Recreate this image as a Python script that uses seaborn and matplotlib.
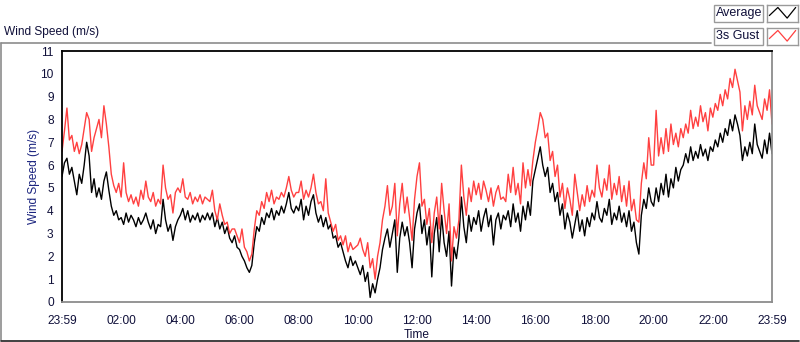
import numpy as np
import pandas as pd
import matplotlib
matplotlib.use("Agg")
import matplotlib.pyplot as plt
import seaborn as sns
from matplotlib.lines import Line2D
from matplotlib.patches import Rectangle

# ---------------- data (5-minute samples, minutes since 23:59) ----------------
avg = [
    5.5, 6.1, 6.3, 5.6, 5.9, 5.3, 4.7, 5.6, 5.2, 6.0, 7.0, 6.4,
    4.8, 5.4, 4.6, 5.0, 4.5, 5.3, 5.7, 4.9, 4.2, 3.8, 4.0, 3.6,
    3.7, 3.4, 3.9, 3.5, 3.8, 3.6, 3.3, 3.7, 3.4, 3.6, 3.9, 3.5,
    3.2, 3.6, 3.0, 3.4, 3.3, 4.5, 3.6, 3.1, 3.4, 2.7, 3.3, 3.6,
    3.8, 4.1, 3.6, 4.0, 3.5, 3.8, 3.6, 3.9, 3.5, 3.8, 3.6, 3.9,
    3.6, 3.9, 3.3, 3.7, 3.2, 3.5, 3.0, 3.3, 2.8, 2.6, 2.9, 2.4,
    2.3, 2.0, 1.8, 1.5, 1.3, 1.6, 2.6, 3.3, 3.1, 3.7, 3.4, 3.9,
    3.7, 4.1, 3.6, 4.0, 3.8, 4.2, 3.9, 4.3, 4.8, 4.1, 3.9, 4.2,
    4.0, 4.5, 3.6, 4.2, 3.8, 4.4, 4.7, 3.9, 3.5, 3.8, 3.3, 3.7,
    3.2, 3.4, 2.8, 2.9, 2.4, 2.6, 2.2, 1.8, 1.5, 2.0, 1.6, 1.8,
    1.5, 1.2, 1.6, 0.9, 1.3, 0.2, 0.8, 0.4, 1.0, 1.5, 2.3, 2.8,
    3.2, 2.4, 3.0, 3.6, 1.3, 2.8, 3.5, 2.9, 3.3, 2.6, 1.5, 3.2,
    3.9, 4.3, 3.0, 3.6, 2.5, 3.3, 1.1, 3.0, 3.7, 2.2, 3.8, 2.6,
    2.0, 3.1, 0.7, 2.4, 1.9, 2.8, 4.6, 3.3, 2.6, 3.8, 3.1, 3.7,
    3.4, 4.0, 3.1, 3.7, 4.1, 3.3, 3.8, 2.5, 3.6, 3.9, 3.2, 3.8,
    3.6, 4.0, 3.3, 4.3, 3.5, 3.9, 3.1, 4.2, 3.6, 4.4, 3.8, 5.3,
    5.8, 6.3, 6.8, 6.0, 5.5, 5.9, 4.8, 5.2, 4.4, 4.8, 3.8, 4.3,
    3.2, 3.9, 3.5, 2.8, 3.4, 4.0, 3.1, 3.6, 2.9, 3.7, 3.3, 3.9,
    3.6, 4.4, 3.7, 3.5, 4.1, 3.8, 4.5, 3.4, 3.9, 3.6, 4.2, 3.5,
    3.9, 3.3, 4.0, 3.1, 3.5, 2.6, 2.1, 3.8, 4.5, 4.1, 5.0, 4.4,
    4.2, 5.0, 4.4, 5.2, 4.7, 5.6, 4.6, 5.4, 5.0, 5.9, 5.3, 5.8,
    6.0, 6.5, 6.1, 6.8, 6.2, 6.6, 6.3, 6.9, 6.4, 6.7, 6.2, 6.8,
    6.6, 7.1, 6.8, 7.4, 7.0, 7.6, 7.3, 8.0, 7.5, 8.2, 7.8, 7.3,
    6.2, 6.8, 6.4, 7.0, 6.5, 7.8, 6.9, 6.6, 6.3, 7.1, 6.5, 7.4, 6.5,
]
gust = [
    6.6, 7.5, 8.5, 7.1, 7.3, 6.6, 7.0, 6.5, 6.9, 7.6, 8.3, 8.0,
    6.6, 7.2, 7.6, 8.0, 7.2, 8.6, 7.8, 6.8, 5.6, 5.1, 4.8, 5.2,
    4.6, 6.1, 4.8, 4.4, 4.7, 4.3, 4.6, 4.2, 4.9, 4.5, 5.3, 4.6,
    4.4, 4.8, 4.2, 4.5, 4.3, 6.0, 5.0, 4.5, 4.7, 3.9, 4.8, 5.0,
    4.8, 5.4, 4.6, 4.5, 4.8, 4.3, 4.6, 4.4, 4.7, 4.3, 4.6, 4.5,
    4.4, 4.9, 4.0, 3.6, 4.3, 3.8, 3.4, 3.5, 3.0, 3.2, 3.2, 2.9,
    2.6, 3.2, 2.4, 2.2, 1.8, 2.1, 3.2, 4.0, 3.8, 4.4, 4.1, 4.8,
    4.4, 4.9, 4.3, 4.6, 4.5, 4.8, 4.6, 5.0, 5.5, 4.9, 4.6, 4.8,
    4.8, 5.3, 4.5, 4.9, 4.6, 5.0, 5.6, 4.8, 4.3, 4.4, 4.0, 5.4,
    3.9, 3.5, 3.1, 3.4, 2.7, 2.9, 2.5, 2.9, 2.2, 2.6, 2.3, 2.4,
    2.5, 2.8, 2.3, 2.0, 2.6, 1.5, 1.9, 1.0, 2.0, 2.6, 3.6, 4.2,
    5.1, 3.8, 4.2, 5.2, 2.9, 4.3, 5.2, 3.9, 4.6, 3.7, 2.7, 4.5,
    5.5, 6.1, 4.2, 4.5, 3.4, 4.1, 2.6, 3.9, 4.6, 3.2, 5.2, 4.0,
    3.0, 4.3, 1.8, 3.3, 2.8, 3.6, 6.0, 4.6, 3.8, 5.0, 4.4, 5.3,
    4.7, 5.2, 4.5, 5.3, 4.9, 4.4, 5.0, 4.2, 4.8, 5.1, 4.5, 4.6,
    4.4, 5.6, 4.8, 5.9, 4.7, 5.2, 4.3, 6.1, 5.0, 5.8, 5.1, 6.2,
    7.0, 7.6, 8.3, 8.0, 7.2, 7.4, 6.2, 6.6, 5.5, 6.0, 4.6, 5.2,
    4.1, 5.0, 4.5, 3.8, 5.6, 4.8, 4.0, 4.7, 4.2, 5.1, 4.4, 4.9,
    4.6, 6.0, 5.0, 4.6, 5.4, 4.9, 6.0, 4.5, 5.2, 4.7, 5.5, 4.4,
    5.1, 4.2, 5.3, 4.0, 4.5, 3.6, 3.5, 5.2, 6.1, 5.4, 7.2, 6.0,
    6.0, 8.4, 6.4, 7.2, 6.5, 7.6, 6.6, 7.8, 6.9, 7.4, 6.8, 7.6,
    7.2, 7.8, 7.4, 8.4, 7.6, 8.1, 7.7, 8.6, 7.9, 8.3, 7.5, 8.5,
    8.1, 8.7, 8.4, 9.1, 8.6, 9.3, 8.9, 9.8, 9.4, 10.2, 9.7, 9.2,
    7.5, 8.6, 8.0, 8.8, 8.2, 9.5, 8.6, 8.3, 8.0, 8.9, 8.4, 9.3, 7.8,
]
series_names = ["Average", "3s Gust"]
tick_labels = ["23:59", "02:00", "04:00", "06:00", "08:00", "10:00", "12:00",
               "14:00", "16:00", "18:00", "20:00", "22:00", "23:59"]
y_ticks = list(range(0, 12))

minutes = np.arange(len(avg)) * 5
df = pd.DataFrame({
    "minute": np.concatenate([minutes, minutes]),
    "value": avg + gust,
    "series": [series_names[0]] * len(avg) + [series_names[1]] * len(gust),
})

# ---------------- style ----------------
sns.set_style("white")
plt.rcParams["font.family"] = ["Liberation Sans", "DejaVu Sans"]
FS = 8.6
plt.rcParams["font.size"] = FS
TXT = "#10103a"

W, H = 800, 342
fig = plt.figure(figsize=(W / 100, H / 100), dpi=100)
fig.patch.set_facecolor("white")

ax = fig.add_axes([62 / W, 1 - 302 / H, 710 / W, 251 / H])
colors = {"Average": "#000000", "3s Gust": "#ff4040"}
sns.lineplot(data=df, x="minute", y="value", hue="series", hue_order=series_names,
             palette=colors, legend=False, linewidth=1.0, ax=ax)

ax.set_xlim(0, 1440)
ax.set_ylim(0, 11)
ax.set_yticks(y_ticks)
ax.set_yticklabels([str(v) for v in y_ticks])
ax.set_xticks(np.arange(0, 1441, 120))
ax.set_xticklabels(tick_labels)
ax.set_xticks(np.arange(0, 1441, 15), minor=True)
ax.tick_params(axis="both", which="major", direction="out", length=4, width=1,
               color="black", labelsize=FS, labelcolor=TXT)
ax.tick_params(axis="x", which="minor", direction="out", length=2, width=1, color="black")
ax.tick_params(axis="x", which="major", pad=5)
ax.tick_params(axis="y", which="major", pad=2)
ax.set_xlabel("Time", fontsize=FS, color=TXT, labelpad=2)
ax.set_ylabel("Wind Speed (m/s)", fontsize=FS, color="#1a237e", labelpad=0)
ax.grid(False)
for s in ["top", "left"]:
    ax.spines[s].set_color("black")
    ax.spines[s].set_linewidth(1.3)
for s in ["bottom", "right"]:
    ax.spines[s].set_color("#8c8c8c")
    ax.spines[s].set_linewidth(1.3)
    ax.spines[s].set_visible(True)

# ---------------- outer frame and title ----------------
def fx(px):
    return px / W

def fy(py):
    return 1 - py / H

frame_kw = dict(transform=fig.transFigure, color="#8c8c8c", linewidth=1.2)
fig.add_artist(Line2D([fx(1), fx(711)], [fy(42.5), fy(42.5)], **frame_kw))
fig.add_artist(Line2D([fx(1), fx(1)], [fy(42.5), fy(340)], **frame_kw))
fig.add_artist(Line2D([fx(1), fx(799)], [fy(340.5), fy(340.5)],
                      transform=fig.transFigure, color="#202020", linewidth=1.2))
fig.text(fx(4), fy(32), "Wind Speed (m/s)", fontsize=FS, color=TXT,
         ha="left", va="center")

# ---------------- legend ----------------
leg_rows = [(13, series_names[0], colors["Average"]), (36, series_names[1], colors["3s Gust"])]
for yc, name, col in leg_rows:
    fig.add_artist(Rectangle((fx(714), fy(yc + 8.5)), fx(763) - fx(714), 17 / H,
                             transform=fig.transFigure, facecolor="white",
                             edgecolor="#9a9a9a", linewidth=1.0))
    fig.text(fx(716), fy(yc), name, fontsize=FS + 0.4, color=TXT, ha="left", va="center")
    sw = fig.add_axes([fx(767), fy(yc + 8.5), (798 - 767) / W, 17 / H])
    sw.set_xlim(0, 4)
    sw.set_ylim(0, 4)
    sw.plot([0.3, 1.4, 2.6, 3.7], [1.4, 3.3, 0.8, 3.3], color=col, linewidth=0.9)
    sw.set_xticks([])
    sw.set_yticks([])
    for s in sw.spines.values():
        s.set_color("#9a9a9a")
        s.set_linewidth(1.0)

fig.savefig("out.png", dpi=100, facecolor="white")
